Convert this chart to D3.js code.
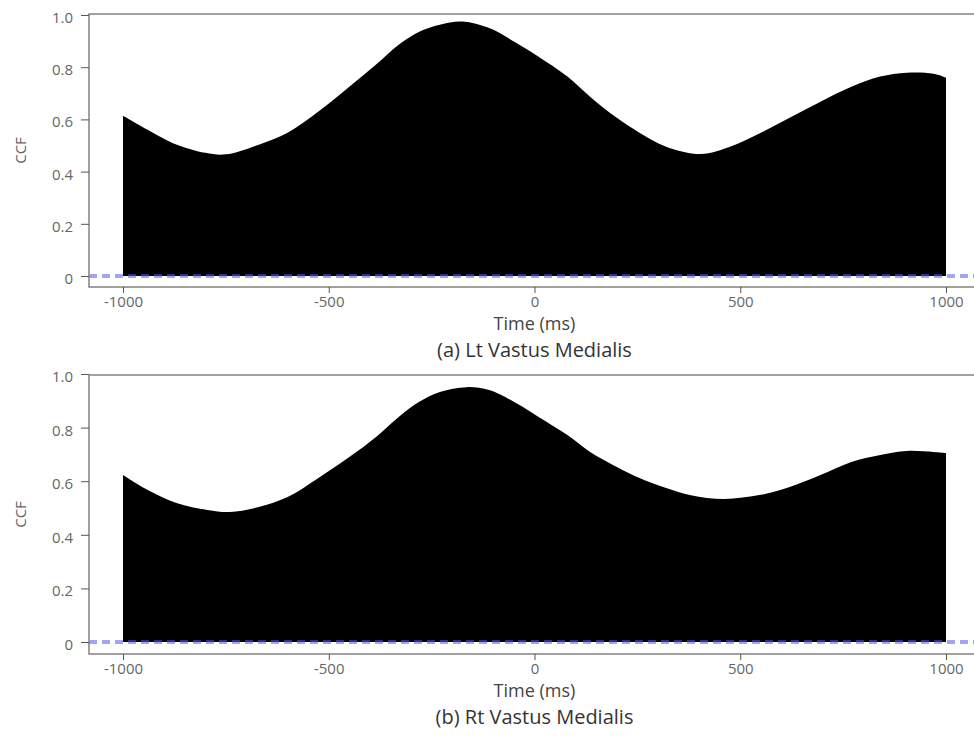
<!DOCTYPE html>
<html>
<head>
<meta charset="utf-8">
<script src="https://cdn.jsdelivr.net/npm/d3@7"></script>
<style>
  body { margin: 0; background: #fff; }
  svg { display: block; }
  text { font-family: "Open Sans", sans-serif; }
</style>
</head>
<body>
<div id="chart"></div>
<script>
// values (cross-correlation vs lag)
var ltTime = [-1000, -940, -880, -800, -750, -670, -600, -525, -450, -385, -330, -280, -230, -175, -110, -45, 10, 80, 135, 200, 255, 320, 405, 475, 550, 620, 695, 770, 840, 905, 970, 1000];
var ltCcf  = [0.614, 0.56, 0.51, 0.472, 0.466, 0.503, 0.549, 0.63, 0.725, 0.81, 0.886, 0.936, 0.963, 0.975, 0.95, 0.894, 0.84, 0.764, 0.687, 0.606, 0.549, 0.495, 0.467, 0.495, 0.549, 0.606, 0.668, 0.725, 0.764, 0.779, 0.775, 0.76];

var rtTime = [-1000, -940, -870, -795, -740, -670, -600, -525, -450, -385, -330, -280, -230, -165, -110, -45, 10, 80, 135, 200, 255, 320, 380, 460, 550, 620, 695, 770, 840, 905, 970, 1000];
var rtCcf  = [0.623, 0.567, 0.519, 0.493, 0.485, 0.504, 0.541, 0.612, 0.69, 0.765, 0.84, 0.896, 0.933, 0.951, 0.94, 0.892, 0.84, 0.772, 0.709, 0.653, 0.612, 0.575, 0.548, 0.534, 0.549, 0.578, 0.623, 0.672, 0.698, 0.713, 0.709, 0.705];

var xTicks = [-1000, -500, 0, 500, 1000];
var yTicks = [0, 0.2, 0.4, 0.6, 0.8, 1.0];
var titles = ["(a) Lt Vastus Medialis", "(b) Rt Vastus Medialis"];

var width = 974, height = 743;
var svg = d3.select("#chart").append("svg").attr("width", width).attr("height", height);

// x scale shared by both panels
var x = d3.scaleLinear().domain([-1000, 1000]).range([123, 946]);

var panels = [
  { time: ltTime, ccf: ltCcf, title: titles[0], top: 14, bottom: 287, y0: 276, y1: 15 },
  { time: rtTime, ccf: rtCcf, title: titles[1], top: 375, bottom: 654, y0: 642, y1: 374 }
];

panels.forEach(function (p) {
  var y = d3.scaleLinear().domain([0, 1]).range([p.y0, p.y1]);
  var g = svg.append("g");
  var pts = p.time.map(function (t, i) { return [t, p.ccf[i]]; });

  var area = d3.area()
    .x(function (d) { return x(d[0]); })
    .y0(y(0))
    .y1(function (d) { return y(d[1]); })
    .curve(d3.curveCatmullRom.alpha(0.5));

  g.append("path").datum(pts).attr("d", area).attr("fill", "#000");

  // zero reference line
  g.append("line")
    .attr("x1", 89).attr("x2", width + 10)
    .attr("y1", y(0)).attr("y2", y(0))
    .attr("stroke", "rgba(90,90,235,0.55)")
    .attr("stroke-width", 4)
    .attr("stroke-dasharray", "8,5");

  // frame (right edge runs off the page)
  g.append("rect")
    .attr("x", 89).attr("y", p.top)
    .attr("width", width + 20).attr("height", p.bottom - p.top)
    .attr("fill", "none").attr("stroke", "#8a8a8a").attr("stroke-width", 1.6);

  var yAxis = g.append("g").attr("transform", "translate(89,0)")
    .call(d3.axisLeft(y).tickValues(yTicks).tickSize(8).tickPadding(8)
      .tickFormat(function (d) { return d === 0 ? "0" : d3.format(".1f")(d); }));
  yAxis.select(".domain").remove();
  yAxis.selectAll("line").attr("stroke", "#555");
  yAxis.selectAll("text").attr("font-size", 15).attr("fill", "#666").attr("dy", "0.5em");

  var xAxis = g.append("g").attr("transform", "translate(0," + p.bottom + ")")
    .call(d3.axisBottom(x).tickValues(xTicks).tickSize(6).tickPadding(3)
      .tickFormat(function (d) { return String(d); }));
  xAxis.select(".domain").remove();
  xAxis.selectAll("line").attr("stroke", "#555");
  xAxis.selectAll("text").attr("font-size", 15).attr("fill", "#666");

  g.append("text")
    .attr("transform", "translate(21," + (p.top + p.bottom) / 2 + ") rotate(-90)")
    .attr("text-anchor", "middle").attr("dy", "0.35em")
    .attr("font-size", 15).attr("fill", "#666")
    .text("CCF");

  g.append("text")
    .attr("x", x(0)).attr("y", p.bottom + 37).attr("dy", "0.35em")
    .attr("text-anchor", "middle").attr("font-size", 18).attr("fill", "#444")
    .text("Time (ms)");

  g.append("text")
    .attr("x", x(0)).attr("y", p.bottom + 63).attr("dy", "0.35em")
    .attr("text-anchor", "middle").attr("font-size", 20).attr("fill", "#333")
    .text(p.title);
});
</script>
</body>
</html>
